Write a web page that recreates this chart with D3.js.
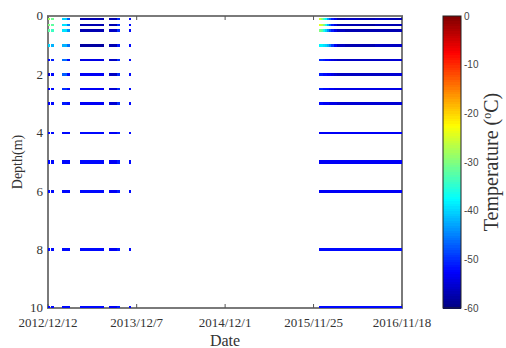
<!DOCTYPE html>
<html>
<head>
<meta charset="utf-8">
<script src="https://cdn.jsdelivr.net/npm/d3@7"></script>
<style>
  html, body { margin: 0; padding: 0; background: #fff; }
  svg { display: block; }
</style>
</head>
<body>
<svg id="chart" width="506" height="348"></svg>
<script>
// Sensor depths (m)
const depths = [0.1, 0.3, 0.5, 1, 1.5, 2, 2.5, 3, 4, 5, 6, 8, 10];

// Logging periods (start, end)
const periodStart = [
  "2012-12-12", "2012-12-25", "2013-02-08", "2013-02-28", "2013-04-20", "2013-08-16", "2013-09-19", "2013-11-06",
  "2015-12-18", "2015-12-26", "2016-01-03", "2016-01-11", "2016-01-19", "2016-01-27", "2016-02-04",
  "2016-02-16", "2016-03-01", "2016-04-01", "2016-06-01", "2016-08-01", "2016-10-01"
];
const periodEnd = [
  "2012-12-20", "2013-01-03", "2013-02-26", "2013-03-08", "2013-07-26", "2013-09-17", "2013-09-27", "2013-11-13",
  "2015-12-26", "2016-01-03", "2016-01-11", "2016-01-19", "2016-01-27", "2016-02-04", "2016-02-16",
  "2016-03-01", "2016-04-01", "2016-06-01", "2016-08-01", "2016-10-01", "2016-11-18"
];

// Mean temperature (°C) per depth (rows) and period (columns)
const temp01  = [-28, -31, -40, -47, -57, -57, -50, -52, -25, -29, -34, -38, -43, -47, -51, -54, -57, -56, -57, -56, -57];
const temp03  = [-30, -32, -39, -45, -57, -57, -50, -52, -24, -26, -30, -36, -42, -47, -51, -54, -57, -57, -58, -57, -57];
const temp05  = [-32, -34, -39, -44, -57, -56, -50, -52, -30, -32, -36, -40, -44, -48, -51, -54, -56, -57, -57, -57, -57];
const temp10  = [-40, -42, -42, -46, -58, -57, -51, -52, -38, -38, -39, -40, -42, -45, -49, -53, -56, -57, -57, -56, -56];
const temp15  = [-52, -51, -46, -52, -54, -56, -50, -52, -50, -50, -51, -52, -52, -53, -54, -55, -56, -56, -56, -56, -55];
const temp20  = [-56, -52, -47, -52, -53, -56, -50, -52, -51, -51, -52, -52, -53, -53, -54, -55, -56, -56, -56, -56, -55];
const temp25  = [-53, -52, -50, -52, -53, -55, -50, -52, -51, -51, -52, -52, -52, -53, -53, -54, -54, -54, -54, -54, -54];
const temp30  = [-53, -52, -51, -52, -53, -55, -50, -52, -52, -52, -53, -53, -53, -54, -54, -54, -55, -55, -55, -55, -55];
const temp40  = [-52, -52, -52, -52, -52, -53, -51, -52, -53, -53, -53, -53, -53, -53, -53, -53, -53, -53, -53, -53, -53];
const temp50  = [-52, -52, -52, -52, -52, -53, -51, -52, -53, -53, -53, -53, -53, -53, -53, -53, -53, -53, -53, -53, -53];
const temp60  = [-52, -52, -52, -52, -52, -53, -51, -52, -53, -53, -53, -53, -53, -53, -53, -53, -53, -53, -53, -53, -53];
const temp80  = [-52, -52, -52, -52, -52, -53, -51, -52, -52, -52, -52, -52, -52, -52, -52, -52, -52, -52, -52, -52, -52];
const temp100 = [-52, -52, -52, -52, -52, -53, -51, -52, -52, -52, -52, -52, -52, -52, -52, -52, -52, -52, -52, -52, -52];
const tempRows = [temp01, temp03, temp05, temp10, temp15, temp20, temp25, temp30, temp40, temp50, temp60, temp80, temp100];

// Axis ticks
const dateTicks = ["2012-12-12", "2013-12-07", "2014-12-01", "2015-11-25", "2016-11-18"];
const dateTickLabels = ["2012/12/12", "2013/12/7", "2014/12/1", "2015/11/25", "2016/11/18"];
const depthTicks = [0, 2, 4, 6, 8, 10];
const tempTicks = [0, -10, -20, -30, -40, -50, -60];

// ---- layout ----
const margin = { left: 48, right: 402, top: 16, bottom: 308 };
const cbar = { x: 443, w: 18 };
const wideRows = [1, 2, 5, 6];

const parse = d3.timeParse("%Y-%m-%d");
const svg = d3.select("#chart");

const x = d3.scaleTime()
  .domain([parse("2012-12-12"), parse("2016-11-18")])
  .range([margin.left, margin.right]);
const y = d3.scaleLinear().domain([0, 10]).range([margin.top, margin.bottom]);

// MATLAB-style jet colormap
function jet(t) {
  const c = v => Math.max(0, Math.min(1, v));
  const r = c(1.5 - Math.abs(4 * t - 3));
  const g = c(1.5 - Math.abs(4 * t - 2));
  const b = c(1.5 - Math.abs(4 * t - 1));
  return d3.rgb(r * 255, g * 255, b * 255).formatHex();
}
const color = d3.scaleSequential(jet).domain([-60, 0]);

// ---- axes frame (drawn beneath the data rows) ----
const axisColor = "#7a7a7a";
svg.append("rect")
  .attr("x", margin.left).attr("y", margin.top)
  .attr("width", margin.right - margin.left).attr("height", margin.bottom - margin.top)
  .attr("fill", "none").attr("stroke", axisColor).attr("stroke-width", 2);

const xt = dateTicks.map(parse);
svg.append("g").attr("stroke", "#555").attr("stroke-width", 1)
  .selectAll("line").data(xt).join("line")
  .attr("x1", d => x(d)).attr("x2", d => x(d))
  .attr("y1", margin.bottom).attr("y2", margin.bottom - 4);
svg.append("g").attr("stroke", "#555").attr("stroke-width", 1)
  .selectAll("line").data(xt).join("line")
  .attr("x1", d => x(d)).attr("x2", d => x(d))
  .attr("y1", margin.top).attr("y2", margin.top + 4);

// ---- cells ----
const cells = [];
depths.forEach((d, i) => {
  tempRows[i].forEach((v, j) => {
    cells.push({ depth: d, t0: parse(periodStart[j]), t1: parse(periodEnd[j]), value: v });
  });
});
const rowH = d => (wideRows.includes(d) ? 3.4 : 2.4);

svg.append("g")
  .selectAll("rect")
  .data(cells)
  .join("rect")
  .attr("shape-rendering", "crispEdges")
  .attr("x", c => x(c.t0))
  .attr("width", c => Math.max(1.5, x(c.t1) - x(c.t0) + 0.4))
  .attr("y", c => Math.max(margin.top, Math.min(y(c.depth) - rowH(c.depth) / 2, margin.bottom - rowH(c.depth))))
  .attr("height", c => rowH(c.depth))
  .attr("fill", c => color(c.value));

// ---- labels ----
const serif = "'Liberation Serif', 'Times New Roman', serif";

svg.append("g")
  .selectAll("text").data(xt).join("text")
  .attr("x", d => x(d))
  .attr("y", 327)
  .attr("text-anchor", "middle")
  .attr("font-family", serif)
  .attr("font-size", 13)
  .attr("fill", "#333")
  .text((d, i) => dateTickLabels[i]);

svg.append("g")
  .selectAll("text").data(depthTicks).join("text")
  .attr("x", 43)
  .attr("y", d => y(d))
  .attr("dy", "0.34em")
  .attr("text-anchor", "end")
  .attr("font-family", serif)
  .attr("font-size", 13)
  .attr("fill", "#333")
  .text(d => d);

svg.append("text")
  .attr("x", 225).attr("y", 346)
  .attr("text-anchor", "middle")
  .attr("font-family", serif)
  .attr("font-size", 16)
  .attr("fill", "#333")
  .text("Date");

svg.append("text")
  .attr("transform", "translate(22,162) rotate(-90)")
  .attr("text-anchor", "middle")
  .attr("font-family", serif)
  .attr("font-size", 14)
  .attr("fill", "#333")
  .text("Depth(m)");

// ---- colorbar ----
const cy = d3.scaleLinear().domain([-60, 0]).range([margin.bottom, margin.top]);
const steps = d3.range(-60, 0, 0.5);
svg.append("g")
  .selectAll("rect").data(steps).join("rect")
  .attr("shape-rendering", "crispEdges")
  .attr("x", cbar.x).attr("width", cbar.w)
  .attr("y", d => cy(d + 0.5))
  .attr("height", d => cy(d) - cy(d + 0.5) + 0.5)
  .attr("fill", d => color(d + 0.25));
svg.append("rect")
  .attr("x", cbar.x).attr("y", margin.top)
  .attr("width", cbar.w).attr("height", margin.bottom - margin.top)
  .attr("fill", "none").attr("stroke", "#222").attr("stroke-width", 1);

svg.append("g")
  .selectAll("text").data(tempTicks).join("text")
  .attr("x", cbar.x + cbar.w + 3)
  .attr("y", d => cy(d))
  .attr("dy", "0.35em")
  .attr("font-family", "'Liberation Sans', Arial, sans-serif")
  .attr("font-size", 10)
  .attr("fill", "#444")
  .text(d => d === 0 ? "0" : "-" + Math.abs(d));

const title = svg.append("text")
  .attr("transform", "translate(498,162) rotate(-90)")
  .attr("text-anchor", "middle")
  .attr("font-family", serif)
  .attr("font-size", 20)
  .attr("fill", "#333");
title.append("tspan").text("Temperature (");
title.append("tspan").attr("font-size", 12).attr("dy", -7).text("o");
title.append("tspan").attr("dy", 7).text("C)");
</script>
</body>
</html>
